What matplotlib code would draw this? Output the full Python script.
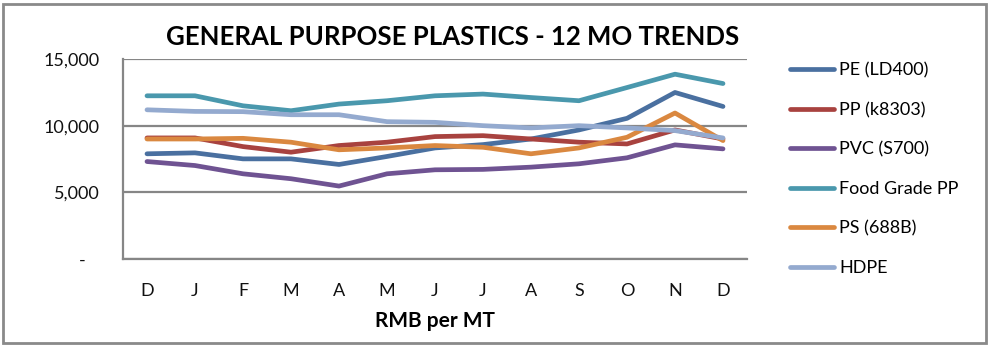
import matplotlib
matplotlib.use("Agg")
import matplotlib.pyplot as plt
from matplotlib.patches import Rectangle
from matplotlib.ticker import FuncFormatter

plt.rcParams["font.family"] = ["Lato", "DejaVu Sans"]

months = ["D", "J", "F", "M", "A", "M", "J", "J", "A", "S", "O", "N", "D"]

pe_ld400 = [7890, 7960, 7510, 7510, 7090, 7690, 8330, 8580, 9000, 9680, 10550, 12490, 11440]
pp_k8303 = [9080, 9080, 8430, 8010, 8510, 8760, 9180, 9250, 9000, 8760, 8630, 9680, 9000]
pvc_s700 = [7310, 7010, 6390, 6020, 5470, 6390, 6690, 6720, 6890, 7140, 7590, 8560, 8260]
food_pp = [12240, 12240, 11490, 11120, 11620, 11870, 12240, 12370, 12110, 11870, 12860, 13860, 13160]
ps_688b = [9000, 9000, 9050, 8760, 8190, 8330, 8510, 8380, 7890, 8330, 9130, 10950, 8880]
hdpe = [11190, 11070, 11050, 10820, 10820, 10300, 10250, 10000, 9830, 10000, 9830, 9630, 9080]

series = [
    ("PE (LD400)", pe_ld400, "#4A70A0"),
    ("PP (k8303)", pp_k8303, "#A8423F"),
    ("PVC (S700)", pvc_s700, "#6F5392"),
    ("Food Grade PP", food_pp, "#4A98AD"),
    ("PS (688B)", ps_688b, "#DA8840"),
    ("HDPE", hdpe, "#94AACF"),
]

grid_gray = "#868686"

fig = plt.figure(figsize=(9.89, 3.46), dpi=100)
ax = fig.add_axes([123 / 989, 87 / 346, 624 / 989, 200 / 346])

x = range(len(months))
for label, values, color in series:
    ax.plot(x, values, color=color, linewidth=3.4, solid_capstyle="round",
            solid_joinstyle="round", label=label)

ax.set_xlim(-0.5, len(months) - 0.5)
ax.set_ylim(0, 15000)
ax.set_yticks([0, 5000, 10000, 15000])
# zero shown as an accounting-style dash
ax.yaxis.set_major_formatter(
    FuncFormatter(lambda v, p: "-   " if v == 0 else f"{int(v):,}"))
ax.set_xticks(list(x))
ax.set_xticklabels(months)
ax.tick_params(axis="both", length=0, labelsize=13, colors="#111111")
ax.tick_params(axis="y", pad=17)
ax.tick_params(axis="x", pad=17)

ax.yaxis.grid(True, color=grid_gray, linewidth=1.6)
ax.set_axisbelow(True)
for side in ["top", "right"]:
    ax.spines[side].set_visible(False)
for side in ["left", "bottom"]:
    ax.spines[side].set_color(grid_gray)
    ax.spines[side].set_linewidth(1.6)

ax.set_xlabel("RMB per MT", fontsize=15, fontweight="bold", labelpad=9)

fig.text(453 / 989, 1 - 37 / 346, "GENERAL PURPOSE PLASTICS - 12 MO TRENDS",
         ha="center", va="center", fontsize=18.5, fontweight="bold")

handles, labels = ax.get_legend_handles_labels()
fig.legend(handles, labels, loc="upper left", bbox_to_anchor=(774 / 989, 1 - 46 / 346),
           frameon=False, fontsize=13, handlelength=2.4, handletextpad=0.3,
           labelspacing=1.3)

fig.patches.append(Rectangle((3 / 989, 3 / 346), 983 / 989, 339 / 346,
                             transform=fig.transFigure, fill=False,
                             edgecolor="#8a8a8a", linewidth=2))

fig.savefig("out.png", dpi=100)
